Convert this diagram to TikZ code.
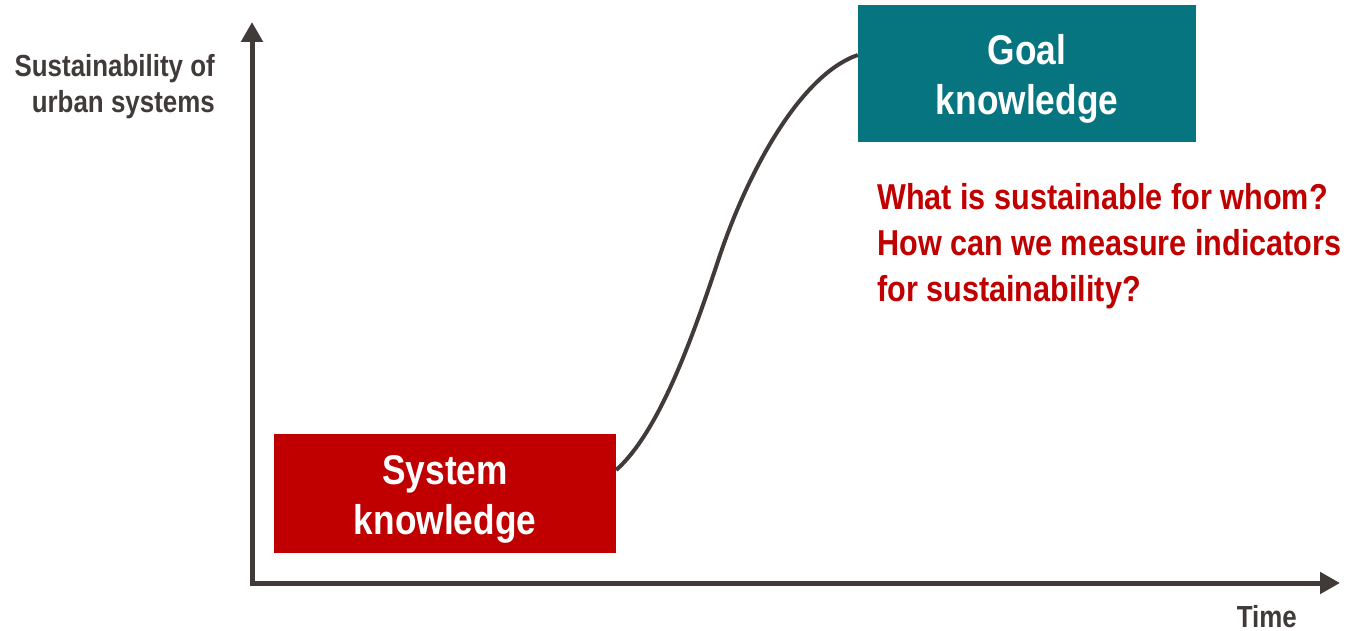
\documentclass[tikz,border=0pt]{standalone}
\usepackage{fontspec}
\setmainfont{Liberation Sans}[FakeStretch=0.85]
\usetikzlibrary{arrows.meta}
\definecolor{axisgray}{HTML}{403B39}
\definecolor{sysred}{HTML}{C00000}
\definecolor{goalteal}{HTML}{06757F}
\tikzset{
  axis/.style={line width=5pt, draw=axisgray, -{Triangle[length=20pt,width=21pt]}},
  kbox/.style={inner sep=0pt, text=white, align=center,
     font=\fontsize{41.5}{50}\selectfont\bfseries},
  curve/.style={line width=4pt, draw=axisgray},
  lbl/.style={text=axisgray, font=\fontsize{30.5}{36}\selectfont\bfseries, inner sep=0pt},
  quest/.style={text=sysred, font=\fontsize{36}{46}\selectfont\bfseries, inner sep=0pt, align=left},
}
\begin{document}
\begin{tikzpicture}[x=1pt,y=-1pt]
\useasboundingbox (0,0) rectangle (1346,631);
\coordinate (ytip) at (252,22);
\coordinate (xtip) at (1340,583);
\draw[axis] (252,585.5) -- (ytip);
\draw[axis] (249.5,583) -- (xtip);
\node[fill=sysred, minimum width=342pt, minimum height=119pt, inner sep=0pt] (sys) at (445,493.5) {};
\node[fill=goalteal, minimum width=338pt, minimum height=137pt, inner sep=0pt] (goal) at (1027,73.5) {};
\node[kbox] (systxt) at (445,499) {System\\knowledge};
\node[kbox] (goaltxt) at (1027,79) {Goal\\knowledge};
\draw[curve] (sys.east |- 0,470) .. controls (661,430) and (695,330) .. (720,255)
  .. controls (748,172) and (800,75) .. (goal.west |- 0,55);
\node[lbl, anchor=north east, align=right] (ylab) at (215,54) {Sustainability of\\urban systems};
\node[lbl, anchor=north east] (time) at (1297,605) {Time};
\node[quest, anchor=north west] (q) at (877,183) {What is sustainable for whom?\\How can we measure indicators\\for sustainability?};
\end{tikzpicture}
\end{document}
